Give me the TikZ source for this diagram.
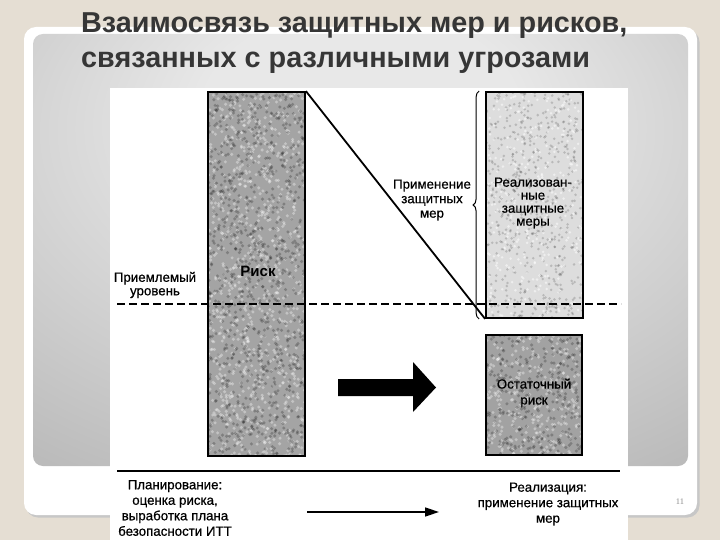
\documentclass[tikz,border=0pt]{standalone}
\usepackage{fontspec}
\setmainfont{Liberation Sans}
\newfontfamily\numfont{Liberation Serif}
\newfontfamily\scanfont[FakeBold=0.6]{Liberation Sans}
\usetikzlibrary{decorations.pathreplacing,arrows.meta}
\definecolor{bg}{HTML}{E5DED3}
\definecolor{pin}{HTML}{E8E8E8}
\definecolor{pout}{HTML}{9E9E9E}
\definecolor{titlec}{HTML}{363636}
\definecolor{riskgray}{HTML}{A4A4A4}
\definecolor{merygray}{HTML}{DDDDDD}
\definecolor{restgray}{HTML}{A2A2A2}
\pgfdeclareradialshading{panelshade}{\pgfpoint{0bp}{18bp}}{color(0bp)=(pin); color(12bp)=(pin); color(62bp)=(pout); color(100bp)=(pout)}
\newcommand\mySpeck[7]{%
  \foreach \k in {1,...,#5}{%
    \pgfmathsetmacro\px{#1+#3*rnd}%
    \pgfmathsetmacro\py{#2+#4*rnd}%
    \fill[#6] (\px,\py) circle (#7);
  }}
\tikzset{
  bar/.style={draw=black, line width=1.8pt, inner sep=0pt},
  lbl/.style={font=\scanfont\fontsize{13.3}{15}\selectfont, align=center, text=black, inner sep=0pt},
  ttl/.style={font=\fontsize{28.8}{34}\bfseries\selectfont, text=titlec, inner sep=0pt, anchor=base west},
  dash line/.style={line width=1.6pt, dash pattern=on 8pt off 4pt},
  lightblob/.style={white, opacity=0.35},
  darkblob/.style={black, opacity=0.22},
}
\begin{document}
\begin{tikzpicture}[x=1pt,y=-1pt]
\pgfmathsetseed{7}
\useasboundingbox (0,0) rectangle (720,540);
\fill[bg] (0,0) rectangle (720,540);
% card
\fill[black!22, rounded corners=12pt] (26,30) rectangle (699.5,517.5);
\fill[white, rounded corners=12pt] (24,27) rectangle (697,515);
\shade[shading=panelshade, rounded corners=10pt] (33,34) rectangle (688,466);
% picture area
\fill[white] (110,88) rectangle (628,540);
% title
\node[ttl] (t1) at (81,33) {Взаимосвязь защитных мер и рисков,};
\node[ttl] (t2) at (81,68) {связанных с различными угрозами};
% bars (fill)
\node[fill=riskgray, minimum width=97pt, minimum height=364pt, inner sep=0pt] (riskf) at (256.5,274) {};
\node[fill=merygray, minimum width=97pt, minimum height=226pt, inner sep=0pt] (meryf) at (534.5,205) {};
\node[fill=restgray, minimum width=96pt, minimum height=120pt, inner sep=0pt] (restf) at (534,395) {};
% texture
\begin{scope}
\clip (208,92) rectangle (305,456);
\mySpeck{208}{92}{97}{364}{900}{lightblob}{1.7}
\mySpeck{208}{92}{97}{364}{900}{darkblob}{1.7}
\end{scope}
\begin{scope}
\clip (486,92) rectangle (583,318);
\mySpeck{486}{92}{97}{226}{600}{black, opacity=0.16}{1.4}
\mySpeck{486}{92}{97}{226}{300}{white, opacity=0.5}{1.4}
\end{scope}
\begin{scope}
\clip (486,335) rectangle (582,455);
\mySpeck{486}{335}{96}{120}{300}{lightblob}{1.7}
\mySpeck{486}{335}{96}{120}{300}{darkblob}{1.7}
\end{scope}
% bars (outline)
\node[bar, minimum width=97pt, minimum height=364pt] (risk) at (256.5,274) {};
\node[bar, minimum width=97pt, minimum height=226pt] (mery) at (534.5,205) {};
\node[bar, minimum width=96pt, minimum height=120pt] (rest) at (534,395) {};
% labels
\node[lbl, font=\fontsize{15}{17}\bfseries\selectfont] (risklbl) at (258,271) {Риск};
\node[lbl] (prieml) at (155,285) {Приемлемый\\[-1.5pt]уровень};
\node[lbl] (primen) at (432,200) {Применение\\[-0.5pt]защитных\\[-0.5pt]мер};
\node[lbl] (realiz) at (533,203) {Реализован-\\[-2pt]ные\\[-2pt]защитные\\[-2pt]меры};
\node[lbl] (ostat) at (534,393) {Остаточный\\[1pt]риск};
\node[lbl] (plan) at (175,508) {Планирование:\\[0.5pt]оценка риска,\\[0.5pt]выработка плана\\[0.5pt]безопасности ИТТ};
\node[lbl] (realz2) at (548,504) {Реализация:\\[0.5pt]применение защитных\\[0.5pt]мер};
% diagonal and brace
\draw[line width=1.8pt] (risk.north east) -- (mery.south west);
\draw[line width=1pt, decorate, decoration={brace, amplitude=6pt}] ([xshift=-6pt]mery.south west) -- ([xshift=-6pt]mery.north west);
% dashed acceptable level
\coordinate (d1) at (117,304);
\coordinate (d2) at (621,304);
\draw[dash line] (d1) -- (d2);
% big arrow
\coordinate (ba1) at (338,379);
\fill[black] (ba1) -- (413,379) -- (413,362) -- (436,387.5) -- (413,412) -- (413,396) -- (338,396) -- cycle;
% bottom separator
\coordinate (s1) at (117,471);
\coordinate (s2) at (620,471);
\draw[line width=2pt] (s1) -- (s2);
% bottom arrow
\coordinate (a1) at (307,512);
\coordinate (a2) at (439,512);
\draw[line width=1.5pt, -{Triangle[length=14pt,width=9pt]}] (a1) -- (a2);
% page number
\node[font=\numfont\fontsize{8.5}{10}\selectfont, text=black!45] (pnum) at (680,502) {11};
\end{tikzpicture}
\end{document}
